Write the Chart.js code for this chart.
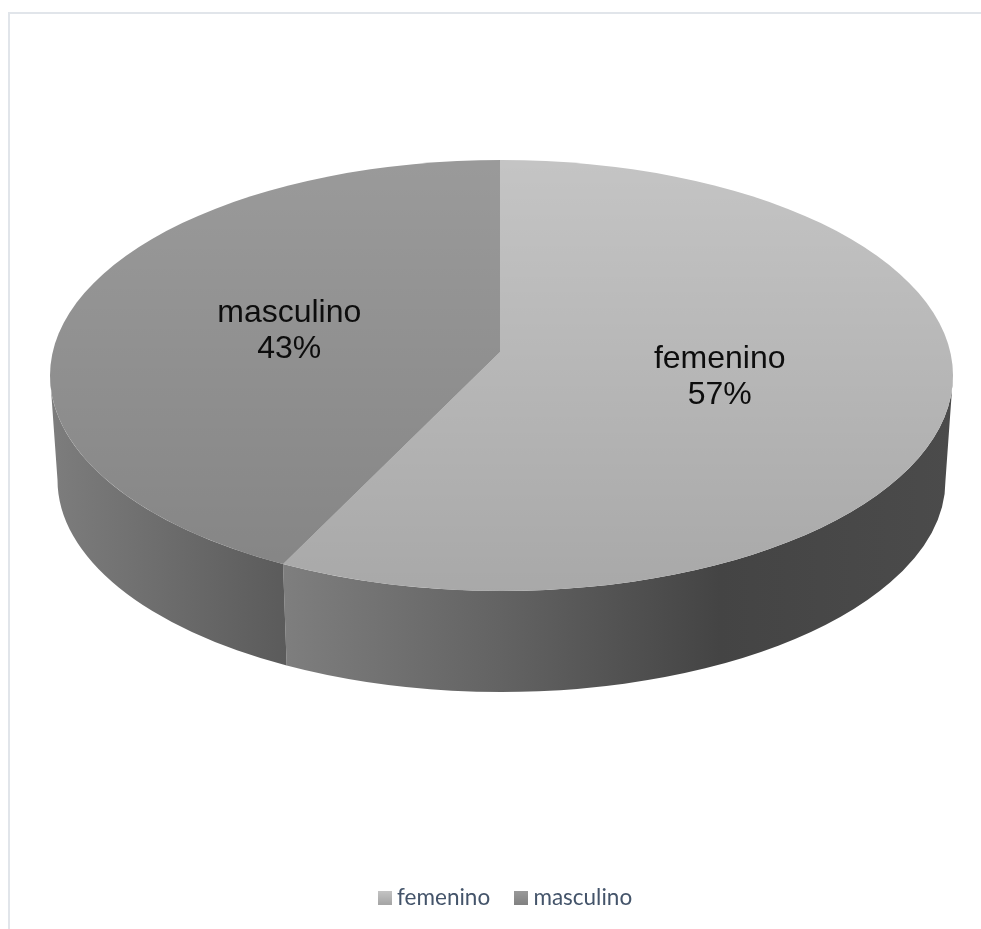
<!DOCTYPE html>
<html>
<head>
<meta charset="utf-8">
<title>femenino / masculino</title>
<style>
  html, body { margin: 0; padding: 0; background: #fff; }
  canvas { display: block; }
</style>
<script src="https://cdn.jsdelivr.net/npm/chart.js@4"></script>
</head>
<body>
<canvas id="pie" width="981" height="929"></canvas>
<script>
const categories = ['femenino', 'masculino'];
const shares = [57, 43];
const sliceColors = ['#c4c4c4', '#9a9a9a'];

// top face and rim of the disc
const face = { x: 501.5, y: 375.5, rx: 451.5, ry: 215.5 };
const base = { x: 501.5, y: 480, rx: 444, ry: 212 };
// slices meet here, above the middle of the ellipse because of the tilt
const hub = { x: 500, y: 352 };
const spreadX = 600, spreadY = 276;

function swatch(color) {
  const c = document.createElement('canvas');
  c.width = c.height = 14;
  const g = c.getContext('2d');
  g.fillStyle = color;
  g.fillRect(0, 0, 14, 14);
  const shade = g.createLinearGradient(0, 0, 0, 14);
  shade.addColorStop(0, 'rgba(0,0,0,0)');
  shade.addColorStop(1, 'rgba(0,0,0,0.16)');
  g.fillStyle = shade;
  g.fillRect(0, 0, 14, 14);
  return c;
}

// where a slice edge leaves the hub and hits the rim, as an ellipse angle
function rimAngle(a) {
  const dx = Math.cos(a) * spreadX / face.rx, dy = Math.sin(a) * spreadY / face.ry;
  const px = (hub.x - face.x) / face.rx, py = (hub.y - face.y) / face.ry;
  const A = dx * dx + dy * dy, B = px * dx + py * dy, C = px * px + py * py - 1;
  const t = (-B + Math.sqrt(B * B - A * C)) / A;
  return Math.atan2(py + t * dy, px + t * dx);
}

function wallGradient(ctx, stops) {
  const g = ctx.createLinearGradient(50, 0, 953, 0);
  stops.forEach(s => g.addColorStop((s[0] - 50) / 903, s[1]));
  return g;
}

const wallStops = [
  [[285, '#7e7e7e'], [500, '#636363'], [720, '#444444'], [953, '#4b4b4b']],
  [[50, '#7d7d7d'], [285, '#5b5b5b']]
];

const disc = {
  id: 'disc',
  beforeDraw(chart) {
    const ctx = chart.ctx;
    ctx.save();
    ctx.fillStyle = '#e1e5ea';
    ctx.fillRect(8, 12, 973, 2);
    ctx.fillRect(8, 12, 2, 917);
    ctx.restore();
  },
  beforeDatasetsDraw(chart) {
    const ctx = chart.ctx;
    const arcs = chart.getDatasetMeta(0).data;

    // side wall, only the front half of the rim shows
    arcs.forEach((arc, i) => {
      let a0 = rimAngle(arc.startAngle), a1 = rimAngle(arc.endAngle);
      if (a1 < a0) a1 += Math.PI * 2;
      a0 = Math.max(a0, 0);
      a1 = Math.min(a1, Math.PI);
      ctx.beginPath();
      ctx.ellipse(face.x, face.y, face.rx, face.ry, 0, a0, a1, false);
      ctx.ellipse(base.x, base.y, base.rx, base.ry, 0, a1, a0, true);
      ctx.closePath();
      ctx.fillStyle = wallGradient(ctx, wallStops[i]);
      ctx.fill();
    });

    // top face: library arcs squashed around the hub, cut to the ellipse
    ctx.save();
    ctx.beginPath();
    ctx.ellipse(face.x, face.y, face.rx, face.ry, 0, 0, Math.PI * 2);
    ctx.clip();
    arcs.forEach(arc => {
      ctx.save();
      ctx.translate(hub.x, hub.y);
      ctx.scale(spreadX / arc.outerRadius, spreadY / arc.outerRadius);
      ctx.translate(-arc.x, -arc.y);
      arc.draw(ctx);
      ctx.restore();
    });
    const shade = ctx.createLinearGradient(0, face.y - face.ry, 0, face.y + face.ry);
    shade.addColorStop(0, 'rgba(0,0,0,0)');
    shade.addColorStop(1, 'rgba(0,0,0,0.14)');
    ctx.fillStyle = shade;
    ctx.fillRect(0, 0, chart.width, chart.height);
    ctx.restore();

    // category and percentage on each slice
    ctx.save();
    ctx.font = '32px "Liberation Sans"';
    ctx.fillStyle = '#0d0d0d';
    ctx.textAlign = 'center';
    ctx.textBaseline = 'middle';
    arcs.forEach((arc, i) => {
      const mid = (arc.startAngle + arc.endAngle) / 2;
      const x = hub.x + 4.5 + 0.4885 * face.rx * Math.cos(mid);
      const y = hub.y + 2 + 0.4885 * face.ry * Math.sin(mid);
      ctx.fillText(categories[i], x, y - 18);
      ctx.fillText(shares[i] + '%', x, y + 18);
    });
    ctx.restore();
    return false;
  }
};

new Chart(document.getElementById('pie'), {
  type: 'pie',
  data: {
    labels: categories,
    datasets: [{ data: shares, backgroundColor: sliceColors, borderWidth: 0 }]
  },
  options: {
    responsive: false,
    animation: false,
    layout: { padding: { left: 35, bottom: 10 } },
    plugins: {
      tooltip: { enabled: false },
      legend: {
        position: 'bottom',
        labels: {
          usePointStyle: true,
          pointStyleWidth: 2,
          padding: 30,
          color: '#44546a',
          font: { family: 'Lato', size: 22.5 },
          generateLabels: () => categories.map((name, i) => ({
            text: name,
            pointStyle: swatch(sliceColors[i]),
            fontColor: '#44546a',
            hidden: false,
            index: i
          }))
        }
      }
    }
  },
  plugins: [disc]
});
</script>
</body>
</html>
